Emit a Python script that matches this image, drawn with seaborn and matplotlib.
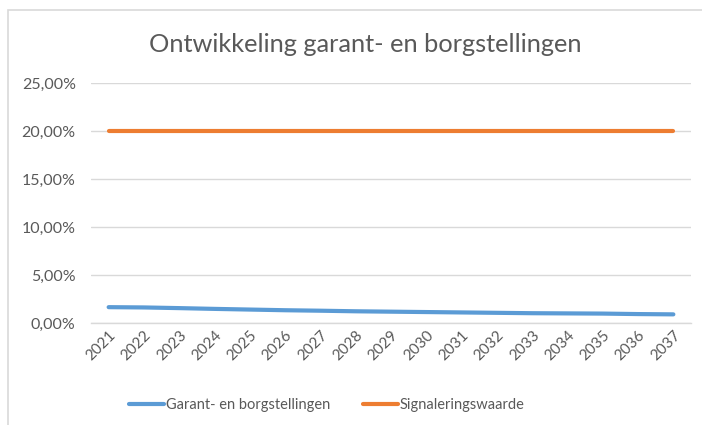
import numpy as np
import pandas as pd
import seaborn as sns
import matplotlib.pyplot as plt
from matplotlib.patches import Rectangle
from matplotlib.lines import Line2D
from matplotlib.ticker import FuncFormatter

# Data
years = [str(y) for y in range(2021, 2038)]
garant = [1.65, 1.62, 1.55, 1.47, 1.40, 1.33, 1.28, 1.22, 1.18, 1.14,
          1.10, 1.06, 1.02, 1.00, 0.98, 0.93, 0.90]
signalering = [20.0] * 17

series_names = ["Garant- en borgstellingen", "Signaleringswaarde"]
colors = ["#5B9BD5", "#ED7D31"]

df = pd.DataFrame({
    "jaar": years * 2,
    "waarde": garant + signalering,
    "reeks": [series_names[0]] * len(years) + [series_names[1]] * len(years),
})

sns.set_theme(style="white")
plt.rcParams['font.family'] = ['Lato', 'DejaVu Sans']

fig = plt.figure(figsize=(7.02, 4.25), dpi=100)
ax = fig.add_axes([91 / 702, 1 - 323 / 425, 600 / 702, 240 / 425])

sns.lineplot(data=df, x="jaar", y="waarde", hue="reeks", palette=colors,
             linewidth=3, ax=ax, legend=False, sort=False)

ax.set_xlim(-0.5, len(years) - 0.5)
ax.set_ylim(0, 25)
ax.set_yticks(np.arange(0, 26, 5))
ax.yaxis.set_major_formatter(FuncFormatter(lambda v, p: f"{v:.2f}%".replace(".", ",")))
ax.grid(axis="y", color="#D9D9D9", linewidth=1)
ax.set_axisbelow(True)
for s in ["top", "right", "left"]:
    ax.spines[s].set_visible(False)
ax.spines["bottom"].set_color("#D9D9D9")
ax.spines["bottom"].set_linewidth(1)
ax.set_xlabel("")
ax.set_ylabel("")
ax.tick_params(axis="y", colors="#595959", labelsize=11.5, length=0, pad=11)
ax.tick_params(axis="x", colors="#595959", labelsize=11, length=0, pad=4)
plt.setp(ax.get_xticklabels(), rotation=45, ha="right", rotation_mode="anchor")

fig.text(365 / 702, 1 - 45 / 425, "Ontwikkeling garant- en borgstellingen",
         ha="center", va="center", fontsize=18.3, color="#595959")

handles = [Line2D([0], [0], color=c, linewidth=3) for c in colors]
fig.legend(handles, series_names, loc="center", bbox_to_anchor=(327 / 702, 1 - 405 / 425),
           ncol=2, frameon=False, fontsize=10.5, labelcolor="#595959",
           handlelength=2.4, handletextpad=0.15, columnspacing=2.2)

# chart area border
fig.add_artist(Rectangle((8 / 702, -0.01), 1.1, 1 - 10 / 425 + 0.01,
                         transform=fig.transFigure, fill=False,
                         edgecolor="#D9D9D9", linewidth=1.2))

fig.savefig("out.png", dpi=100, facecolor="white")
